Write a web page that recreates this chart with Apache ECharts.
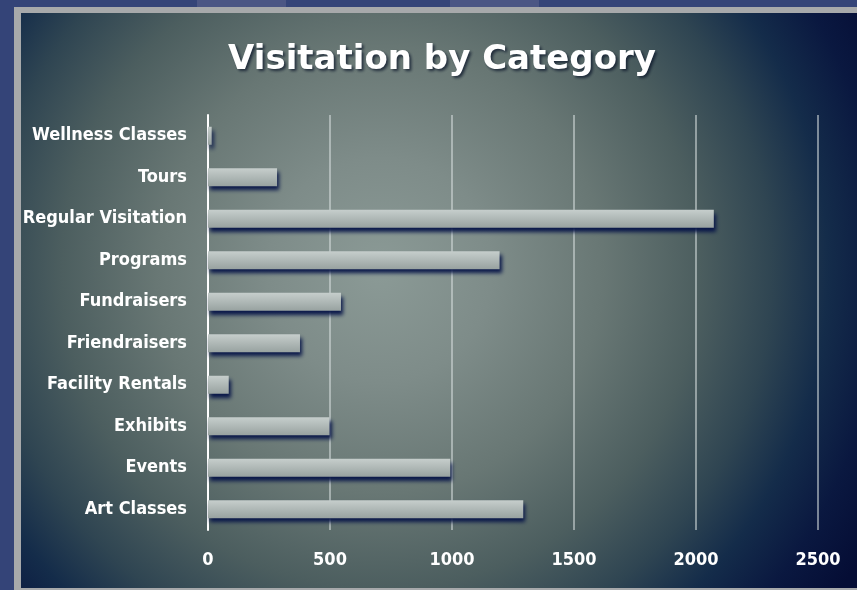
<!DOCTYPE html>
<html>
<head>
<meta charset="utf-8">
<script src="https://cdn.jsdelivr.net/npm/echarts@6/dist/echarts.min.js"></script>
<style>
html,body{margin:0;padding:0;background:#344478;}
#chart{width:857px;height:590px;}
</style>
</head>
<body>
<div id="chart"></div>
<script>
// ---- data ----
var titleText = 'Visitation by Category';
var categories = ['Art Classes','Events','Exhibits','Facility Rentals','Friendraisers','Fundraisers','Programs','Regular Visitation','Tours','Wellness Classes'];
var visits = [1292, 993, 498, 85, 377, 545, 1195, 2073, 283, 15];
var xTicks = [0, 500, 1000, 1500, 2000, 2500];

var chart = echarts.init(document.getElementById('chart'), null, {renderer:'canvas'});
var W = 857, H = 590;
var bg = new echarts.graphic.RadialGradient(380, 270, 560, [
  {offset:0, color:'#8b9a96'},
  {offset:0.2, color:'#7e8c89'},
  {offset:0.4, color:'#687774'},
  {offset:0.57, color:'#4c5e5f'},
  {offset:0.7, color:'#2f4552'},
  {offset:0.8, color:'#142c4a'},
  {offset:0.9, color:'#0a1840'},
  {offset:1, color:'#050d35'}
], true);

var option = {
  backgroundColor:'#344478',
  animation:false,
  graphic:[
    {type:'rect', z:-20, silent:true, shape:{x:197,y:0,width:89,height:7}, style:{fill:'#4b5684'}},
    {type:'rect', z:-20, silent:true, shape:{x:450,y:0,width:89,height:7}, style:{fill:'#4b5684'}},
    {type:'rect', z:-20, silent:true, shape:{x:14,y:7,width:W-14,height:H-7}, style:{fill:'#a7a9ab'}},
    {type:'rect', z:-19, silent:true, shape:{x:21,y:13,width:W-21,height:575}, style:{fill:bg}}
  ],
  title:{
    text:titleText,
    left:437, top:38, textAlign:'center',
    textStyle:{
      color:'#ffffff', fontFamily:'DejaVu Sans', fontWeight:'bold', fontSize:34,
      textShadowColor:'rgba(10,20,40,0.75)', textShadowBlur:3, textShadowOffsetX:2, textShadowOffsetY:2
    }
  },
  grid:{left:208, right:39, top:115, bottom:60, containLabel:false},
  xAxis:{
    type:'value', min:xTicks[0], max:xTicks[xTicks.length-1], interval:xTicks[1]-xTicks[0],
    axisLine:{show:false}, axisTick:{show:false},
    splitLine:{show:true, lineStyle:{color:'rgba(215,222,222,0.55)', width:2}},
    axisLabel:{color:'#ffffff', fontFamily:'DejaVu Sans Condensed', fontWeight:'bold', fontSize:18, margin:21,
      formatter:function(v){return String(v);}}
  },
  yAxis:{
    type:'category', data:categories,
    axisLine:{show:true, lineStyle:{color:'#ffffff', width:2}},
    axisTick:{show:false},
    axisLabel:{color:'#ffffff', fontFamily:'DejaVu Sans Condensed', fontWeight:'bold', fontSize:18, margin:21}
  },
  series:[{
    type:'bar', data:visits, barWidth:18,
    itemStyle:{
      color:new echarts.graphic.LinearGradient(0,0,0,1,[
        {offset:0,color:'#c6cecc'},{offset:0.5,color:'#afb8b6'},{offset:1,color:'#98a2a0'}
      ]),
      shadowColor:'rgba(4,18,70,0.95)', shadowBlur:4, shadowOffsetX:2, shadowOffsetY:4
    }
  }]
};
chart.setOption(option);
</script>
</body>
</html>
